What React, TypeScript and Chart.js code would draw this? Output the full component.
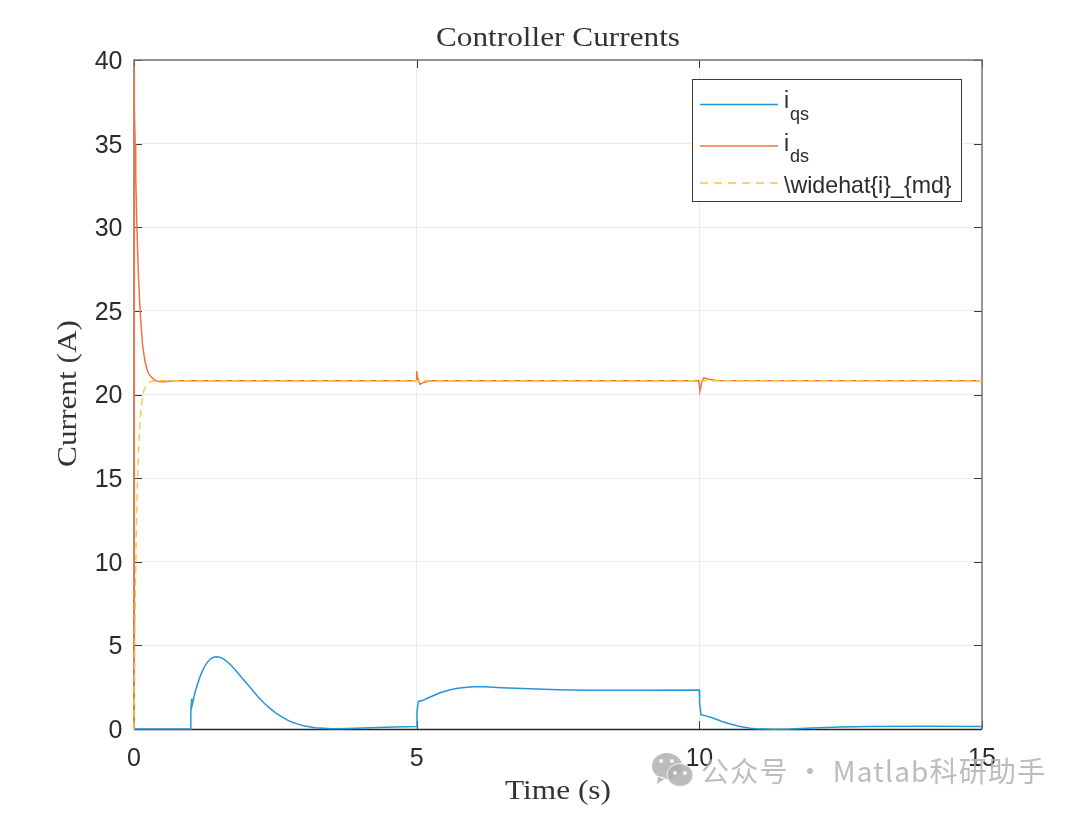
import React, { useEffect, useRef } from "react";
import { Chart, registerables } from "chart.js";

Chart.register(...registerables);

const iqsT = [0, 1, 1.005, 1.02, 1.03, 1.05, 1.08, 1.12, 1.16, 1.2, 1.25, 1.3, 1.35, 1.4, 1.45, 1.5, 1.55, 1.6, 1.7, 1.8, 1.9, 2.0, 2.1, 2.2, 2.3, 2.4, 2.5, 2.6, 2.7, 2.8, 2.9, 3.0, 3.2, 3.5, 3.8, 4.2, 4.6, 5, 5.005, 5.03, 5.1, 5.2, 5.3, 5.4, 5.5, 5.6, 5.7, 5.8, 5.9, 6, 6.2, 6.5, 7, 7.5, 8, 9, 10, 10.005, 10.03, 10.1, 10.2, 10.3, 10.4, 10.5, 10.6, 10.7, 10.8, 10.9, 11, 11.3, 11.6, 12, 12.5, 13, 14, 15];
const iqsV = [0, 0, 1.0, 1.8, 1.45, 1.75, 2.2, 2.65, 3.05, 3.4, 3.75, 4.0, 4.18, 4.28, 4.32, 4.31, 4.25, 4.15, 3.87, 3.5, 3.1, 2.7, 2.3, 1.9, 1.55, 1.25, 0.98, 0.75, 0.56, 0.4, 0.29, 0.2, 0.08, 0.01, 0.03, 0.08, 0.12, 0.15, 1.0, 1.65, 1.7, 1.85, 2.0, 2.15, 2.26, 2.35, 2.42, 2.47, 2.5, 2.52, 2.52, 2.47, 2.4, 2.35, 2.32, 2.32, 2.33, 1.5, 0.85, 0.8, 0.7, 0.58, 0.45, 0.34, 0.25, 0.17, 0.1, 0.05, 0.02, -0.02, 0.0, 0.06, 0.12, 0.15, 0.17, 0.15];

const idsT = [0, 0.001, 0.01, 0.02, 0.03, 0.05, 0.065, 0.08, 0.1, 0.12, 0.15, 0.18, 0.2, 0.23, 0.26, 0.3, 0.35, 0.4, 0.5, 0.7, 1, 4.99, 5.0, 5.02, 5.06, 5.12, 5.25, 9.99, 10.01, 10.04, 10.08, 10.15, 10.3, 15];
const idsV = [0, 39.6, 37.2, 35, 33.1, 30.2, 28.5, 27, 25.5, 24.4, 23, 22.3, 21.9, 21.5, 21.25, 21.07, 20.9, 20.8, 20.75, 20.82, 20.82, 20.82, 21.4, 20.95, 20.6, 20.72, 20.82, 20.82, 20.2, 20.7, 21.0, 20.92, 20.84, 20.82];

const imdT = [0, 0.02, 0.04, 0.06, 0.08, 0.1, 0.13, 0.17, 0.22, 0.3, 0.4, 15];
const imdV = [0, 7, 11.5, 14.5, 16.5, 18, 19.3, 20.2, 20.6, 20.78, 20.82, 20.82];

const seriesNames = ["i_qs", "i_ds", "\\widehat{i}_{md}"];
const chartTitle = "Controller Currents";
const xTitle = "Time (s)";
const yTitle = "Current (A)";
const watermark = "公众号 · Matlab科研助手";

const BLUE = "#2596d8";
const ORANGE = "#ee7440";
const YELLOW = "#fbc63f";
const AXIS = "#2b2b2b";
const SERIF = '27px "Liberation Serif"';

const zip = (t: number[], v: number[]) => t.map((x, i) => ({ x, y: v[i] }));

function stretched(ctx: any, text: string, x: number, y: number, target: number, rot = 0) {
  ctx.save();
  ctx.font = SERIF;
  ctx.fillStyle = "#333333";
  ctx.textAlign = "center";
  ctx.textBaseline = "alphabetic";
  const k = target / ctx.measureText(text).width;
  ctx.translate(x, y);
  ctx.rotate(rot);
  ctx.scale(k, 1);
  ctx.fillText(text, 0, 0);
  ctx.restore();
}

const framePlugin = {
  id: "frame",
  beforeDatasetsDraw(chart: any) {
    const { ctx, chartArea: a, scales } = chart;
    ctx.save();
    ctx.lineWidth = 1;
    ctx.strokeStyle = "#3a3a3a";
    const L = 8;
    ctx.beginPath();
    scales.x.ticks.forEach((t: any) => {
      const px = Math.round(scales.x.getPixelForValue(t.value)) + 0.5;
      ctx.moveTo(px, a.bottom);
      ctx.lineTo(px, a.bottom - L);
      ctx.moveTo(px, a.top);
      ctx.lineTo(px, a.top + L);
    });
    scales.y.ticks.forEach((t: any) => {
      const py = Math.round(scales.y.getPixelForValue(t.value)) + 0.5;
      ctx.moveTo(a.left, py);
      ctx.lineTo(a.left + L, py);
      ctx.moveTo(a.right, py);
      ctx.lineTo(a.right - L, py);
    });
    ctx.stroke();

    ctx.lineWidth = 1.4;
    ctx.strokeStyle = "#707070";
    ctx.beginPath();
    ctx.moveTo(a.left, a.bottom);
    ctx.lineTo(a.left, a.top);
    ctx.lineTo(a.right, a.top);
    ctx.lineTo(a.right, a.bottom);
    ctx.stroke();
    ctx.strokeStyle = "#262626";
    ctx.beginPath();
    ctx.moveTo(a.left, a.bottom + 0.5);
    ctx.lineTo(a.right, a.bottom + 0.5);
    ctx.stroke();
    ctx.restore();
  },
  afterDatasetsDraw(chart: any) {
    const { ctx } = chart;
    ctx.save();
    const lx = 692.5, ly = 79.5, lw = 269, lh = 122;
    ctx.lineWidth = 1;
    ctx.fillStyle = "#ffffff";
    ctx.fillRect(lx, ly, lw, lh);
    ctx.strokeStyle = "#3a3a3a";
    ctx.strokeRect(lx, ly, lw, lh);
    const rows = [104.5, 146, 183];
    const colors = [BLUE, ORANGE, YELLOW];
    ctx.lineWidth = 1.4;
    rows.forEach((y, i) => {
      ctx.strokeStyle = colors[i];
      ctx.setLineDash(i === 2 ? [8, 6] : []);
      ctx.beginPath();
      ctx.moveTo(700, y);
      ctx.lineTo(778, y);
      ctx.stroke();
    });
    ctx.setLineDash([]);
    ctx.fillStyle = AXIS;
    ctx.textAlign = "left";
    ctx.textBaseline = "alphabetic";
    const baselines = [108, 151, 193];
    const subBaselines = [120, 162];
    [0, 1].forEach((i) => {
      const [base, sub] = seriesNames[i].split("_");
      ctx.font = '23px "Liberation Sans"';
      ctx.fillText(base, 784, baselines[i]);
      ctx.font = '18px "Liberation Sans"';
      ctx.fillText(sub, 790, subBaselines[i]);
    });
    ctx.font = '23.2px "Liberation Sans"';
    ctx.fillText(seriesNames[2], 784, baselines[2]);
    ctx.restore();
  },
  afterDraw(chart: any) {
    const { ctx } = chart;
    stretched(ctx, chartTitle, 558, 46, 244);
    stretched(ctx, xTitle, 558, 799, 106);
    stretched(ctx, yTitle, 76, 393.5, 147, -Math.PI / 2);

    ctx.save();
    ctx.globalAlpha = 0.85;
    ctx.fillStyle = "#b0b0b0";
    ctx.strokeStyle = "#ffffff";
    ctx.lineWidth = 1;
    ctx.beginPath();
    ctx.ellipse(667, 766, 15, 13, 0, 0, Math.PI * 2);
    ctx.moveTo(658, 776);
    ctx.lineTo(657, 784);
    ctx.lineTo(666, 778);
    ctx.fill();
    ctx.beginPath();
    ctx.ellipse(680, 775, 13, 11.5, 0, 0, Math.PI * 2);
    ctx.fill();
    ctx.stroke();
    ctx.fillStyle = "#ffffff";
    [[661, 761], [672, 761], [675, 773], [685, 773]].forEach(([x, y]) => {
      ctx.beginPath();
      ctx.arc(x, y, 2, 0, Math.PI * 2);
      ctx.fill();
    });
    ctx.fillStyle = "#b0b0b0";
    ctx.font = '28px "Noto Sans CJK SC"';
    ctx.textAlign = "left";
    ctx.textBaseline = "alphabetic";
    (ctx as any).letterSpacing = "1.2px";
    ctx.fillText(watermark, 701, 782);
    ctx.restore();
  },
};

export default function App() {
  const ref = useRef<HTMLCanvasElement>(null);
  useEffect(() => {
    const chart = new Chart(ref.current!, {
      type: "scatter",
      data: {
        datasets: [
          { label: seriesNames[0], data: zip(iqsT, iqsV), borderColor: BLUE, borderWidth: 1.5, showLine: true, pointRadius: 0, order: 3, clip: 2 },
          { label: seriesNames[1], data: zip(idsT, idsV), borderColor: ORANGE, borderWidth: 1.5, showLine: true, pointRadius: 0, order: 2, clip: 2 },
          { label: seriesNames[2], data: zip(imdT, imdV), borderColor: YELLOW, borderWidth: 1.4, borderDash: [7, 5], showLine: true, pointRadius: 0, order: 1, clip: 2 },
        ],
      },
      options: {
        animation: false,
        responsive: false,
        layout: { padding: { right: 98, top: 60, left: 0, bottom: 0 } },
        plugins: {
          legend: { display: false },
          tooltip: { enabled: false },
          title: { display: false },
        },
        scales: {
          x: {
            type: "linear",
            min: 0,
            max: 15,
            border: { display: false },
            grid: { color: "#ececec", lineWidth: 1, drawTicks: false },
            ticks: { stepSize: 5, color: AXIS, maxRotation: 0, autoSkip: false, padding: 15, font: { family: '"Liberation Sans"', size: 25 } },
            afterFit(s: any) { s.height = 85; },
          },
          y: {
            type: "linear",
            min: 0,
            max: 40,
            border: { display: false },
            grid: { color: "#ececec", lineWidth: 1, drawTicks: false },
            ticks: { stepSize: 5, color: AXIS, autoSkip: false, padding: 11.5, labelOffset: 2, font: { family: '"Liberation Sans"', size: 25 } },
            afterFit(s: any) { s.width = 134; },
          },
        },
      },
      plugins: [framePlugin],
    } as any);
    return () => chart.destroy();
  }, []);
  return (
    <canvas
      ref={ref}
      width={1080}
      height={814}
      style={{ position: "fixed", left: 0, top: 0, width: 1080, height: 814, background: "#fff" }}
    />
  );
}
